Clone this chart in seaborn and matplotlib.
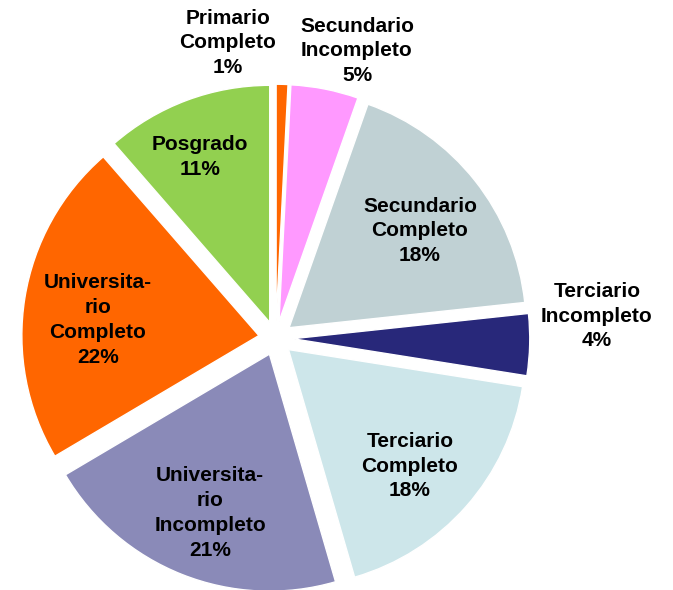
import matplotlib
matplotlib.use("Agg")
import matplotlib.pyplot as plt
import seaborn as sns

sns.set_style("white")
plt.rcParams['font.family'] = ['Liberation Sans', 'DejaVu Sans']

categories = ["Primario\nCompleto", "Secundario\nIncompleto", "Secundario\nCompleto",
              "Terciario\nIncompleto", "Terciario\nCompleto", "Universita-\nrio\nIncompleto",
              "Universita-\nrio\nCompleto", "Posgrado"]
values = [0.8, 4.6, 17.9, 4.2, 18.0, 21.0, 22.1, 11.4]
colors = ["#FF6600", "#FF99FF", "#C0D1D4", "#28287A", "#CDE6EA", "#8A8AB8", "#FF6600", "#92D050"]

# label centres in figure pixels (layout)
label_px = [(228, 43), (357, 51), (420, 231), (597, 316), (410, 466), (210, 513), (98, 320), (200, 157)]

W, H = 673, 590
fig = plt.figure(figsize=(W / 100, H / 100), dpi=100)
ax = fig.add_axes([0, 0, 1, 1])
palette = sns.color_palette(colors)

cx, cy, R = 275.7, 338.3, 237
ax.pie(values, colors=palette, startangle=90, counterclock=False,
       explode=[0.072] * len(values), radius=1.0)
ax.set_xlim(-cx / R, (W - cx) / R)
ax.set_ylim(-(H - cy) / R, cy / R)
ax.set_aspect("equal")
ax.axis("off")

for cat, v, (px, py) in zip(categories, values, label_px):
    fig.text(px / W, 1 - py / H, f"{cat}\n{round(v)}%", ha="center", va="center",
             fontsize=15, fontweight="bold", color="black", linespacing=1.38)

fig.savefig("out.png", dpi=100)
